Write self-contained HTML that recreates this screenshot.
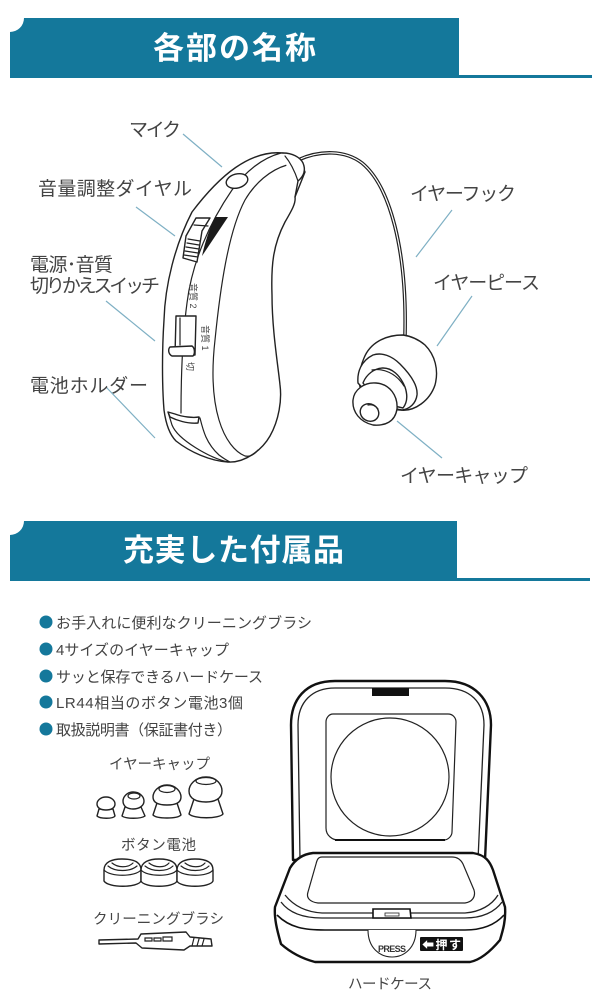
<!DOCTYPE html>
<html><head><meta charset="utf-8"><style>
html,body{margin:0;padding:0;background:#fff}
svg{display:block}
text{font-family:"Liberation Sans","Noto Sans CJK JP",sans-serif;fill:#444}
.t{font-size:31px;font-weight:700;fill:#fff}
.l{font-size:19px}
.m{font-size:15px}
.s{font-size:14.5px}
.ln{stroke:#7fb0c4;stroke-width:1.2;fill:none}
.k{stroke:#222;stroke-width:1.4;fill:#fff;stroke-linejoin:round;stroke-linecap:round}
.n{stroke:#222;stroke-width:1.2;fill:none;stroke-linecap:round}
.h{stroke:#111;stroke-width:2.4;fill:#fff;stroke-linejoin:round}
</style></head><body>
<svg width="600" height="1000" viewBox="0 0 600 1000" xmlns="http://www.w3.org/2000/svg">
<rect width="600" height="1000" fill="#fff"/>
<!-- headers -->
<path d="M24 18H459V75H592V78H10V32A14 14 0 0 0 24 18Z" fill="#14789b"/>
<text class="t" x="153" y="59" textLength="163" lengthAdjust="spacing">各部の名称</text>
<path d="M24 521H457V578H590V581H10V535A14 14 0 0 0 24 521Z" fill="#14789b"/>
<text class="t" x="123" y="561" textLength="221" lengthAdjust="spacing">充実した付属品</text>

<!-- leader lines -->
<path class="ln" d="M183 134L222 167M136 207L175 236M106 301L155 341M106 387L155 438M452 210L416 257M472 296L437 346M397 421L442 458"/>

<!-- tube -->
<path d="M298 160C320 150 345 150 362 163C390 186 407 250 405 335" fill="none" stroke="#222" stroke-width="3.6"/>
<path d="M298 160C320 150 345 150 362 163C390 186 407 250 405 335" fill="none" stroke="#fff" stroke-width="1.2"/>

<!-- body -->
<path class="k" d="M283 153C250 150 220 175 192 212C175 245 165 285 164 320C162 350 162 385 164 410C166 425 170 435 176 441C190 452 210 461 228 462C245 463 262 450 270 436C279 420 282 400 280 385C278 365 272 330 272 295C271 265 273 245 285 222C292 210 296 203 295 197L305 172L300 160Z"/>
<path class="n" d="M287 165C270 170 255 183 245 200C228 232 220 290 215 340C211 375 213 400 219 420C225 440 235 452 245 456C250 457 254 455 258 450"/>
<path class="n" d="M281 153C262 158 245 172 232 190C210 222 192 262 187 303C182 340 181 380 181 413"/>
<path class="n" d="M168 412L172 425C178 440 210 458 228 462M200 418C203 430 206 443 219 455C223 458 226 460 230 462"/>
<path class="k" d="M283 153C292 153 300 157 303 163C306 170 304 176 298 181L295 197" fill="none"/>
<path class="n" d="M285 156C290 162 295 172 298 181"/>
<ellipse cx="237" cy="181" rx="11" ry="7" transform="rotate(-15 237 181)" class="k"/>
<!-- dial -->
<path d="M215 217H228L206 250L202 256C205 242 209 230 215 217Z" fill="#1a1a1a"/>
<path class="k" d="M196 218H210L202 231L197 262L183 258L186 236Z"/>
<path class="n" d="M194 225L208 226M188 239L200 241M187 243L199 245M186 247L199 249M185 251L198 253M184 255L198 257"/>
<!-- switch -->
<path class="k" d="M176 316H196L195 355H175Z"/>
<path class="n" d="M180 318L180 345"/>
<path class="k" d="M170 347L192 346C195 348 195 354 193 356H172C168 354 168 349 170 347Z"/>
<!-- holder -->
<path class="k" d="M168 412L175 414C183 417 193 418 199 417L198 423C187 424 176 420 170 417Z"/>
<text font-size="9" transform="translate(190 283) rotate(90)">音質 2</text>
<text font-size="9" transform="translate(202 325) rotate(90)">音質 1</text>
<text font-size="9" transform="translate(187 362) rotate(90)">切</text>

<!-- ear piece -->
<path class="k" d="M403 335C385 335 370 343 364 358C358 372 358 385 362 392C375 395 385 410 400 410C415 412 430 400 435 385C439 370 435 355 425 345C418 339 410 336 403 335Z"/>
<path class="k" d="M358 383C357 372 361 361 373 355C382 352 392 356 400 364C410 374 418 385 417 395C416 403 410 409 402 410C385 408 368 395 358 383Z"/>
<path class="k" d="M363 383C366 375 374 368 383 368C392 368 400 375 405 387C408 396 407 403 403 408C390 406 372 395 363 383Z"/>
<path class="n" d="M372 370C383 368 396 373 404 386"/>
<path class="k" d="M376 383C390 384 398 396 397 409C395 422 385 426 373 425C360 422 352 412 353 400C354 390 364 382 376 383Z"/>
<ellipse cx="369.500" cy="412.500" rx="9.500" ry="8.500" class="k" transform="rotate(30 369.500 412.500)"/>
<path class="n" d="M368 405C372 404 376 406 378 409"/>

<!-- labels -->
<text class="l" x="129" y="136" textLength="52">マイク</text>
<text class="l" x="38" y="195" textLength="154">音量調整ダイヤル</text>
<text class="l" x="30" y="271" textLength="83">電源･音質</text>
<text class="l" x="30" y="292" textLength="130">切りかえスイッチ</text>
<text class="l" x="30" y="392" textLength="118">電池ホルダー</text>
<text class="l" x="410" y="200" textLength="106">イヤーフック</text>
<text class="l" x="433" y="289" textLength="107">イヤーピース</text>
<text class="l" x="400" y="482" textLength="128">イヤーキャップ</text>

<!-- list -->
<g fill="#14789b"><circle cx="46" cy="622" r="6.5"/><circle cx="46" cy="649" r="6.5"/><circle cx="46" cy="676" r="6.5"/><circle cx="46" cy="702" r="6.5"/><circle cx="46" cy="729" r="6.5"/></g>
<text class="m" x="56" y="628" textLength="256">お手入れに便利なクリーニングブラシ</text>
<text class="m" x="56" y="655" textLength="173">4サイズのイヤーキャップ</text>
<text class="m" x="56" y="682" textLength="207">サッと保存できるハードケース</text>
<text class="m" x="56" y="708" textLength="187">LR44相当のボタン電池3個</text>
<text class="m" x="56" y="735" textLength="176">取扱説明書（保証書付き）</text>

<text class="s" x="109" y="769" textLength="101">イヤーキャップ</text>
<text class="s" x="121" y="850" textLength="75">ボタン電池</text>
<text class="s" x="93" y="924" textLength="131">クリーニングブラシ</text>
<text class="s" x="348" y="989" textLength="84">ハードケース</text>

<!-- caps -->
<g>
<path class="k" d="M99 809L97 816C100 819 113 819 115 816L113 809Z"/><path class="k" d="M106 797C112 797 115 801 115 804C115 808 111 810 106 810C101 810 97 808 97 804C97 801 100 797 106 797Z"/>
<path class="k" d="M125 807L122 816C126 819 141 819 145 816L141 807Z"/><path class="k" d="M133 792C140 792 144 797 144 801C144 806 139 809 133 809C127 809 123 806 123 801C123 797 127 792 133 792Z"/><ellipse cx="134" cy="796" rx="6" ry="3" class="n"/>
<path class="k" d="M157 803L153 815C157 819 177 819 181 815L177 803Z"/><path class="k" d="M167 785C176 785 181 792 181 797C181 803 175 805 167 805C159 805 153 803 153 797C153 792 158 785 167 785Z"/><ellipse cx="167" cy="789" rx="8" ry="3.5" class="n"/>
<path class="k" d="M194 799L189 814C194 819 219 819 223 814L218 799Z"/><path class="k" d="M206 777C217 777 222 785 222 791C222 799 214 802 206 802C197 802 189 799 189 791C189 785 195 777 206 777Z"/><ellipse cx="206" cy="781" rx="10" ry="3.5" class="n"/>
</g>
<!-- batteries -->
<g>
<path class="k" d="M104 870C104 862 112 859 122 859C133 859 141 862 141 870V881C138 888 108 888 104 881Z"/><path class="n" d="M104 870C110 877 135 877 141 870M108 866C115 872 130 872 137 866M112 863C118 868 128 868 133 863"/>
<path class="k" d="M141 870C141 862 149 859 159 859C170 859 177 862 177 870V881C174 888 144 888 141 881Z"/><path class="n" d="M141 870C147 877 172 877 177 870M145 866C152 872 167 872 173 866M149 863C155 868 165 868 169 863"/>
<path class="k" d="M177 870C177 862 185 859 195 859C206 859 213 862 213 870V881C210 888 180 888 177 881Z"/><path class="n" d="M177 870C183 877 208 877 213 870M181 866C188 872 203 872 209 866M185 863C191 868 201 868 205 863"/>
</g>
<!-- brush -->
<path class="k" d="M99 940L138 939L141 934L186 932L190 937L211 939L212 946L190 946L184 950L142 948L136 943L99 944Z"/>
<path class="n" d="M145 938H152V941H145ZM154 938H161V941H154ZM163 937H172V941H163ZM194 938L192 946M199 939L197 946M204 939L202 946"/>

<!-- case -->
<path class="h" d="M293 860L291 725C291 700 305 681 335 681L445 681C475 681 491 700 491 725L485 860Z"/>
<path d="M300 860L298 725C298 702 312 688 335 688H445C470 688 484 702 484 725L478 860" fill="none" stroke="#222" stroke-width="1.3"/>
<rect x="372" y="688" width="37" height="8" fill="#111"/>
<path d="M333 714H448C453 714 456 718 456 722L452 832C452 836 448 840 444 840H338C333 840 326 836 326 828L326 722C326 718 329 714 333 714Z" fill="#fff" stroke="#222" stroke-width="1.2"/>
<circle cx="390" cy="777" r="59" fill="#fff" stroke="#222" stroke-width="1.2"/>
<path d="M335 840H445" stroke="#111" stroke-width="2"/>
<path class="h" d="M313 853H473C486 855 490 862 493 870L505 907C506 920 503 930 500 940C490 952 480 960 470 962L315 962C300 958 290 952 281 944C277 930 274 918 275 907L290 868C296 858 304 854 313 853Z"/>
<path d="M285 895C293 905 305 912 322 913H465C480 912 492 905 498 895" fill="none" stroke="#222" stroke-width="1.3"/>
<path d="M281 902C290 914 305 918 322 918H465C482 918 495 912 502 902" fill="none" stroke="#222" stroke-width="1.3"/>
<path d="M277 915C290 928 305 930 325 930H465C482 930 495 925 504 915" fill="none" stroke="#111" stroke-width="1.6"/>
<path d="M322 857H452C458 857 461 860 463 864L474 890C476 897 472 902 465 903H318C310 902 306 898 308 892L316 864C317 860 318 857 322 857Z" fill="#fff" stroke="#222" stroke-width="1.2"/>
<path d="M373 909H410L411 918H373Z" fill="#fff" stroke="#111" stroke-width="1.6"/>
<rect x="385" y="913" width="14" height="3" fill="#fff" stroke="#222" stroke-width="0.8"/>
<path d="M368 930C368 948 380 957 392 957C404 957 416 948 416 930" fill="#fff" stroke="#222" stroke-width="1.1"/>
<text x="378" y="952" font-size="9" font-weight="700" style="fill:#333" textLength="28">PRESS</text>
<rect x="420" y="937" width="43" height="14" rx="1" fill="#111"/>
<text x="422" y="949" font-size="12" font-weight="700" style="fill:#fff" textLength="39">⬅押す</text>
</svg>
</body></html>
